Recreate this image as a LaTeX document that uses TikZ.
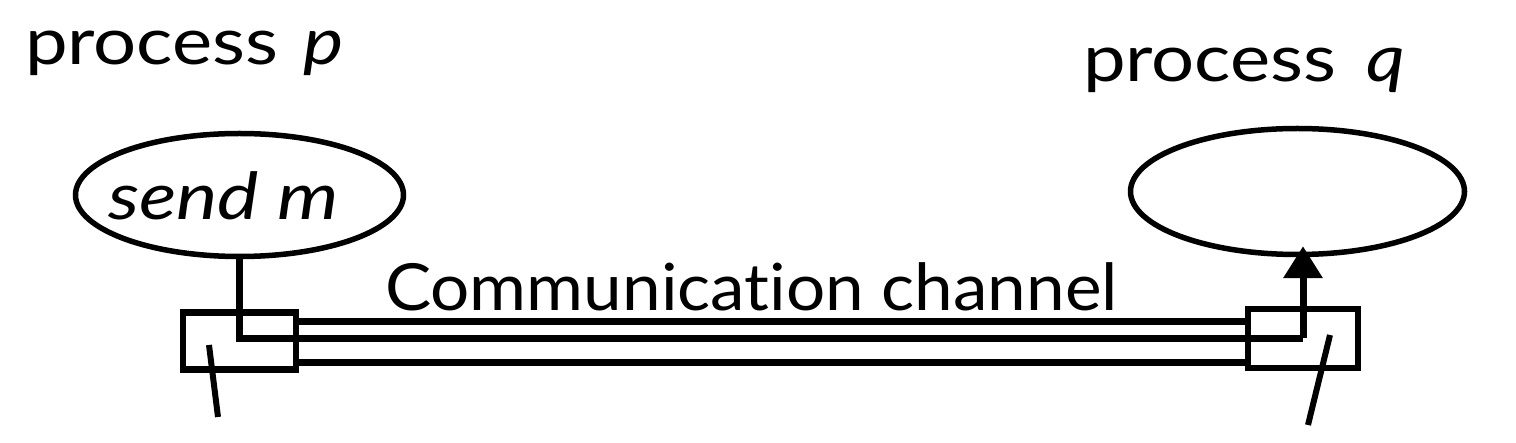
\documentclass[tikz,border=0pt]{standalone}
\usepackage{fontspec}
\setmainfont{Lato}[Ligatures=NoCommon]
\newfontfamily\widefont{Lato}[FakeStretch=1.2, Ligatures=NoCommon]
\newfontfamily\titlefont{Lato}[FakeStretch=1.17, Ligatures=NoCommon]
\newfontfamily\chanfont{Lato}[FakeStretch=1.065, Ligatures=NoCommon]
\usetikzlibrary{shapes.geometric,arrows.meta}
\tikzset{
  lbl/.style={inner sep=0pt, outer sep=0pt, anchor=base west, font=\fontsize{65}{78}\widefont},
  title/.style={lbl, font=\fontsize{65}{78}\titlefont},
  proc/.style={draw, ellipse, line width=5.5pt, inner sep=0pt},
  port/.style={draw, rectangle, line width=6.5pt, inner sep=0pt, minimum width=113pt, minimum height=57pt},
  chan/.style={line width=7pt},
  tick/.style={line width=6pt},
  deliver/.style={chan, -{Triangle[width=38pt,length=32pt]}}
}
\begin{document}
\begin{tikzpicture}[x=1pt,y=-1pt]
\useasboundingbox (0,0) rectangle (1516,443);
% labels
\node[title] (ptitle) at (25,65) {process\hspace{25pt}\textit{p}};
\node[title] (qtitle) at (1083,82) {process\hspace{30pt}\textit{q}};
\node[lbl, font=\fontsize{65}{78}\chanfont] (chlbl) at (385,311) {Communication channel};
% processes
\node[proc, minimum width=328pt, minimum height=123pt] (pe) at (239.5,195) {};
\node[lbl] (sendm) at (108,220) {\itshape send m};
\node[proc, minimum width=334pt, minimum height=126pt] (qe) at (1297.5,191.5) {};
% ports
\node[port] (lbox) at (239.5,341) {};
\node[port, minimum width=110pt, minimum height=59pt] (rbox) at (1303,338.5) {};
% channel rails
\path ([yshift=19.5pt]lbox.east) coordinate (toprail);
\path ([yshift=-21.5pt]lbox.east) coordinate (botrail);
\draw[chan] (toprail) -- (toprail -| rbox.west);
\draw[chan] (botrail) -- (botrail -| rbox.west);
% message path
\draw[chan] (lbox.center |- pe.south) -- (lbox.center |- rbox.center) -- (rbox.center);
\draw[deliver, shorten >=-11pt] (rbox.center) -- (rbox.center |- qe.south);
% ticks
\coordinate (lt1) at (209,345);
\coordinate (lt2) at (218,417);
\coordinate (rt1) at (1330,335);
\coordinate (rt2) at (1308,425);
\draw[tick] (lt1) -- (lt2);
\draw[tick] (rt1) -- (rt2);
\end{tikzpicture}
\end{document}
